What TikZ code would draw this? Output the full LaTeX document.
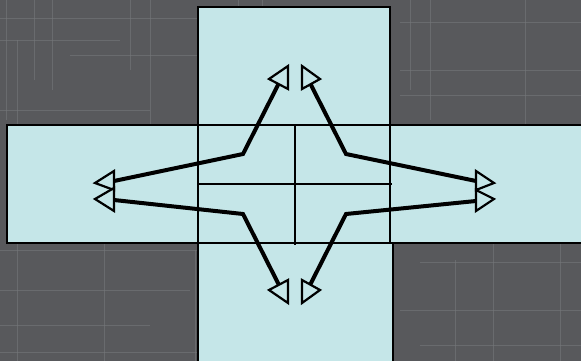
\documentclass[tikz,border=0pt]{standalone}
\usetikzlibrary{positioning}

\definecolor{cloth}{HTML}{58595C}
\definecolor{thread}{HTML}{75777A}
\definecolor{panel}{HTML}{C5E6E8}

\begin{document}
\begin{tikzpicture}[x=1pt,y=-1pt,
  box/.style={draw=black,line width=2pt,fill=panel},
  grid line/.style={draw=black,line width=2.6pt},
  arm/.style={draw=black,line width=4pt,line join=miter},
  head/.style={draw=black,line width=2.2pt,fill=panel,line join=miter}]
\useasboundingbox (0,0) rectangle (581,361);
\fill[cloth] (0,0) rectangle (581,361);
% faint threads of the background
\foreach \x/\a/\b in {6/0/120,17/40/361,34/0/80,52/0/90,104/150/361,
  130/0/70,150/0/200,195/250/361,238/0/60,262/0/40,330/250/361,
  410/0/90,430/0/120,455/260/361,493/200/361,525/0/130,560/240/361}
  \draw[thread,line width=0.7pt,opacity=0.6] (\x,\a) -- (\x,\b);
\foreach \y/\a/\b in {18/0/200,22/400/581,40/0/120,55/70/200,
  70/400/581,95/400/581,110/0/150,250/0/200,262/420/581,290/0/190,
  310/400/581,325/0/150,345/420/581,352/0/200}
  \draw[thread,line width=0.7pt,opacity=0.6] (\a,\y) -- (\b,\y);

\begin{scope}
\clip (0,0) rectangle (581,361);
\draw[box] (198,7) rectangle (390,125);
\draw[box] (7,125) rectangle (198,243);
\draw[box] (390,125) rectangle (590,243);
\draw[box] (198,243) rectangle (393,370);
\draw[box] (198,125) rectangle (390,243);
\end{scope}

% centre cross
\coordinate (ctop) at (295,125);
\coordinate (cbot) at (295,245);
\coordinate (cleft) at (198,184);
\coordinate (cright) at (392,184);
\draw[grid line] (ctop) -- (cbot);
\draw[grid line] (cleft) -- (cright);

% bends of the arms
\coordinate (ul) at (243,154);
\coordinate (ur) at (346,154);
\coordinate (ll) at (243,214);
\coordinate (lr) at (346,214);

% ends of the arms
\coordinate (ulw) at (114,181);
\coordinate (uln) at (279,83);
\coordinate (urn) at (310,83);
\coordinate (ure) at (476,181);
\coordinate (llw) at (114,200);
\coordinate (lls) at (280,287);
\coordinate (lrs) at (309,287);
\coordinate (lre) at (476,201);

\draw[arm] (ulw) -- (ul) -- (uln);
\draw[arm] (urn) -- (ur) -- (ure);
\draw[arm] (llw) -- (ll) -- (lls);
\draw[arm] (lrs) -- (lr) -- (lre);

% heads
\draw[head] (95,183) -- (114,171) -- (114,190) -- cycle;
\draw[head] (95,199) -- (114,188) -- (114,211) -- cycle;
\draw[head] (269,79) -- (288,66) -- (288,89) -- cycle;
\draw[head] (320,79) -- (302,66) -- (302,89) -- cycle;
\draw[head] (494,183) -- (476,171) -- (476,190) -- cycle;
\draw[head] (494,199) -- (476,190) -- (476,211) -- cycle;
\draw[head] (269,290) -- (288,280) -- (288,303) -- cycle;
\draw[head] (320,290) -- (302,280) -- (302,303) -- cycle;
\end{tikzpicture}
\end{document}
